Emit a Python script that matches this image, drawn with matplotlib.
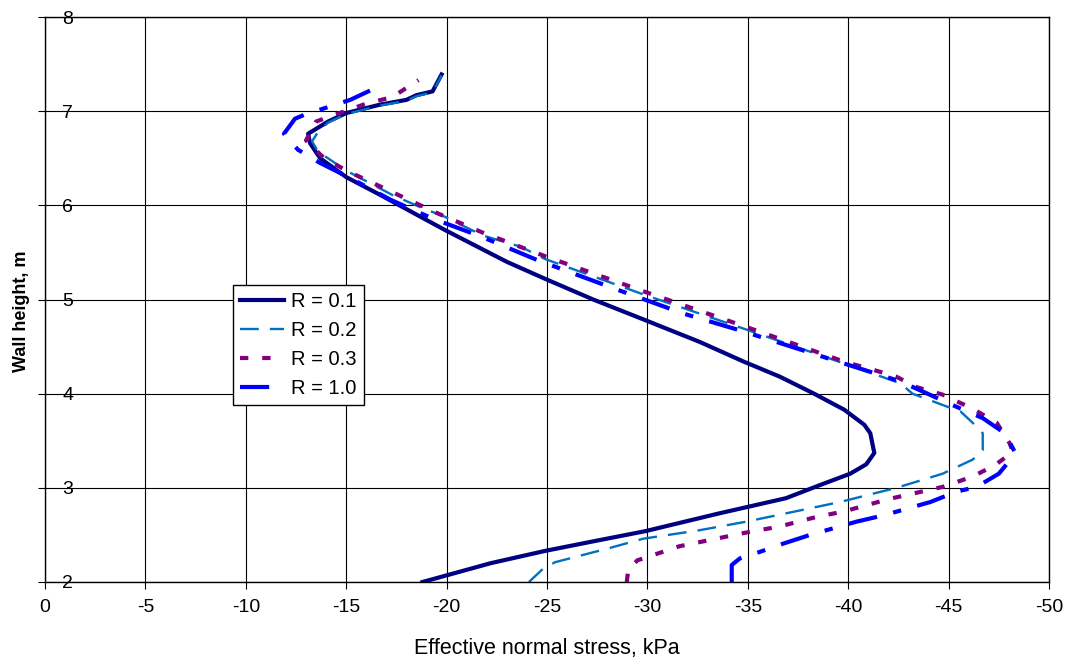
import matplotlib
matplotlib.use("Agg")
import matplotlib.pyplot as plt

plt.rcParams['font.family'] = ['Liberation Sans', 'DejaVu Sans']
plt.rcParams['axes.unicode_minus'] = False
plt.rcParams['lines.scale_dashes'] = False

# ---- data ----
x_r01 = [-18.8, -20.5, -22.2, -24.9, -27.5, -29.9, -33.6, -36.9, -38.6, -40.1, -40.9, -41.3,
         -41.1, -40.8, -39.8, -38.3, -36.6, -34.8, -32.6, -29.9, -27.3, -24.9, -23.0, -19.9,
         -16.7, -15.0, -13.7, -13.2, -13.1, -14.1, -15.0, -16.7, -18.0, -18.5, -19.3, -19.75]
y_r01 = [2.00, 2.10, 2.20, 2.33, 2.44, 2.54, 2.73, 2.89, 3.03, 3.15, 3.25, 3.37,
         3.58, 3.67, 3.83, 4.00, 4.18, 4.34, 4.55, 4.78, 5.00, 5.22, 5.40, 5.74,
         6.11, 6.30, 6.50, 6.66, 6.76, 6.89, 6.98, 7.07, 7.12, 7.17, 7.21, 7.39]

x_r02 = [-24.1, -24.8, -25.4, -28.1, -29.8, -32.6, -34.9, -37.6, -39.6, -42.4, -44.7, -46.2,
         -46.7, -46.7, -46.2, -45.6, -44.7, -43.2, -42.6, -39.8, -34.8, -29.85, -24.9, -23.7,
         -21.8, -19.9, -18.8, -17.3, -14.9, -14.3, -13.6, -13.3, -13.6, -14.1, -15.0, -16.7,
         -18.0, -18.5, -19.3, -19.75]
y_r02 = [2.00, 2.14, 2.21, 2.36, 2.46, 2.55, 2.64, 2.76, 2.85, 3.00, 3.15, 3.30,
         3.40, 3.58, 3.69, 3.81, 3.88, 4.00, 4.11, 4.32, 4.69, 5.05, 5.43, 5.56,
         5.68, 5.88, 5.97, 6.11, 6.38, 6.47, 6.57, 6.68, 6.78, 6.88, 6.97, 7.06,
         7.11, 7.16, 7.20, 7.38]

x_r03 = [-28.97, -29.05, -29.5, -31.6, -34.8, -36.6, -38.4, -39.8, -42.0, -44.7, -46.2, -47.3,
         -48.2, -48.05, -47.4, -46.2, -44.7, -43.4, -42.4, -41.3, -39.8, -34.9, -29.9, -24.9,
         -21.8, -19.5, -17.3, -15.1, -13.9, -13.0, -13.5, -14.8, -16.0, -17.3, -18.6]
y_r03 = [2.00, 2.13, 2.23, 2.38, 2.52, 2.59, 2.69, 2.75, 2.88, 3.01, 3.12, 3.24,
         3.38, 3.47, 3.69, 3.84, 3.99, 4.07, 4.18, 4.25, 4.34, 4.71, 5.08, 5.46,
         5.71, 5.92, 6.14, 6.36, 6.50, 6.69, 6.89, 6.99, 7.08, 7.15, 7.33]

x_r10 = [-34.2, -34.2, -34.6, -35.6, -36.8, -38.1, -40.4, -41.8, -44.1, -45.4, -46.4, -47.5,
         -48.2, -48.3, -47.8, -46.7, -45.4, -42.6, -39.8, -34.8, -31.8, -28.3, -24.5, -21.7,
         -19.3, -17.2, -15.2, -13.7, -12.6, -11.9, -12.45, -12.9, -13.9, -15.2, -15.9, -16.4]
y_r10 = [2.00, 2.18, 2.25, 2.32, 2.41, 2.50, 2.64, 2.71, 2.85, 2.96, 3.01, 3.15,
         3.33, 3.38, 3.58, 3.74, 3.86, 4.13, 4.32, 4.66, 4.85, 5.12, 5.42, 5.67,
         5.86, 6.06, 6.29, 6.45, 6.59, 6.76, 6.92, 6.96, 7.03, 7.12, 7.19, 7.24]

series_labels = ['R = 0.1', 'R = 0.2', 'R = 0.3', 'R = 1.0']
x_ticks = [0, -5, -10, -15, -20, -25, -30, -35, -40, -45, -50]
y_ticks = [2, 3, 4, 5, 6, 7, 8]
x_label = 'Effective normal stress, kPa'
y_label = 'Wall height, m'

# ---- figure ----
fig = plt.figure(figsize=(10.66, 6.66), dpi=100)
ax = fig.add_axes([45 / 1066, 1 - 582 / 666, 1004 / 1066, 565 / 666])

ax.plot(x_r01, y_r01, color='#000080', lw=3.0, solid_joinstyle='round', label=series_labels[0])
ax.plot(x_r02, y_r02, color='#0070C0', lw=1.7, dashes=(13.5, 8), label=series_labels[1])
ax.plot(x_r03, y_r03, color='#800080', lw=3.0, dashes=(6, 10), label=series_labels[2])
ax.plot(x_r10, y_r10, color='#0000FF', lw=3.0, dashes=(21, 12, 6, 12), label=series_labels[3])

ax.set_xlim(0, -50)
ax.set_ylim(2, 8)
ax.set_xticks(x_ticks)
ax.set_xticklabels([str(v) for v in x_ticks])
ax.set_yticks(y_ticks)
ax.set_yticklabels([str(v) for v in y_ticks])

ax.grid(True, color='black', lw=0.8)
ax.set_axisbelow(True)
for sp in ax.spines.values():
    sp.set_color('black')
    sp.set_linewidth(1.0)

ax.tick_params(axis='x', direction='out', length=5, width=0.8, pad=7, labelsize=14)
ax.tick_params(axis='y', direction='out', length=5, width=0.8, pad=-17.5, labelsize=14)
for lab in ax.get_yticklabels():
    lab.set_horizontalalignment('left')

ax.set_xlabel(x_label, fontsize=15.5)
ax.xaxis.set_label_coords(0.5, -0.117)
ax.xaxis.label.set_va('center')
ax.set_ylabel(y_label, fontsize=13, fontweight='bold')
ax.yaxis.set_label_coords(-0.023, 0.48)
ax.yaxis.label.set_va('center')

leg = ax.legend(loc='upper left', bbox_to_anchor=(0.187, 0.526), borderaxespad=0,
                fontsize=14.5, frameon=True, fancybox=False, framealpha=1,
                edgecolor='black', handlelength=2.2, handletextpad=0.35,
                borderpad=0.35, labelspacing=0.5)
leg.get_frame().set_linewidth(1.0)

fig.savefig('out.png', dpi=100)
